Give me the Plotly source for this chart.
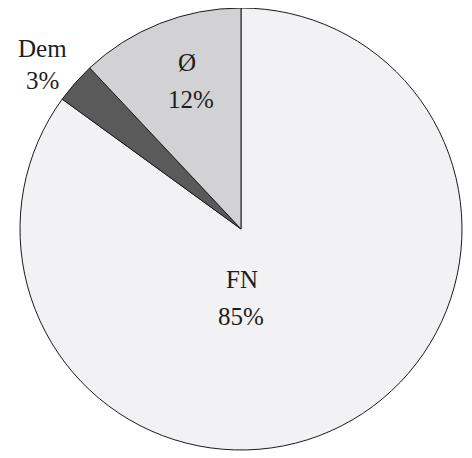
import plotly.graph_objects as go

labels = ["FN", "Dem", "Ø"]
values = [85, 3, 12]
colors = ["#f2f2f4", "#5a5a5a", "#d2d2d4"]

# label placement (paper coords): name line, percent line
name_pos = [(0.502, 0.385), (0.050, 0.909), (0.378, 0.876)]
pct_pos = [(0.500, 0.303), (0.050, 0.837), (0.387, 0.792)]

fig = go.Figure(
    go.Pie(
        labels=labels,
        values=values,
        sort=False,
        direction="clockwise",
        rotation=0,
        marker=dict(colors=colors, line=dict(color="#1a1a1a", width=1)),
        textinfo="none",
        hoverinfo="label+percent",
        showlegend=False,
    )
)

total = sum(values)
font = dict(family="Liberation Serif, Times New Roman, serif", size=25, color="#1e1e1e")
for lab, val, (nx, ny), (qx, qy) in zip(labels, values, name_pos, pct_pos):
    fig.add_annotation(x=nx, y=ny, xref="paper", yref="paper", text=lab,
                       xanchor="center", yanchor="middle",
                       showarrow=False, font=font)
    fig.add_annotation(x=qx, y=qy, xref="paper", yref="paper",
                       text=f"{round(100 * val / total)}%",
                       xanchor="center", yanchor="middle",
                       showarrow=False, font=font)

fig.update_layout(
    width=464,
    height=450,
    margin=dict(l=12, r=10, t=0, b=8),
    paper_bgcolor="white",
    plot_bgcolor="white",
)

fig.write_html("out.html")
